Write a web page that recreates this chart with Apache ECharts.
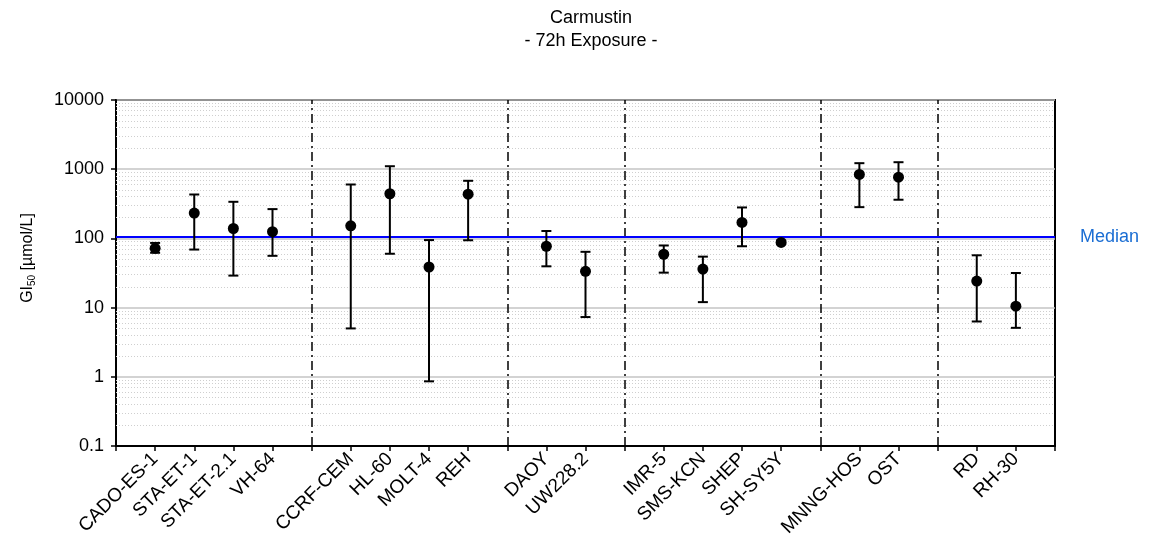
<!DOCTYPE html>
<html>
<head>
<meta charset="utf-8">
<script src="https://cdn.jsdelivr.net/npm/echarts@6/dist/echarts.min.js"></script>
<style>html,body{margin:0;padding:0;background:#fff}#c{width:1150px;height:543px}</style>
</head>
<body>
<div id="c"></div>
<script>
// ---- data ----
const groupSizes = [4, 4, 2, 4, 2, 2];
const cellLines = ['CADO-ES-1','STA-ET-1','STA-ET-2.1','VH-64',
  'CCRF-CEM','HL-60','MOLT-4','REH',
  'DAOY','UW228.2',
  'IMR-5','SMS-KCN','SHEP','SH-SY5Y',
  'MNNG-HOS','OST',
  'RD','RH-30'];
const gi50     = [72, 232, 139, 125, 152, 442, 38.6, 436, 77, 33.4, 59, 36, 170, 87.5, 839, 767, 24.2, 10.5];
const gi50High = [86, 431, 338, 265, 601, 1104, 94.6, 680, 128, 64, 79, 54.5, 280, 93, 1222, 1262, 57, 31.6];
const gi50Low  = [62, 69, 29, 56, 5.0, 60, 0.86, 94, 39.5, 7.3, 32, 12, 77, 83, 283, 362, 6.3, 5.1];
const medianValue = 106;
const yTickLabels = ['0.1','1','10','100','1000','10000'];

// ---- layout derived from groups ----
const positions = [];
const separators = [];
let pos = 0;
groupSizes.forEach((n, gi) => {
  for (let i = 0; i < n; i++) { pos += 1; positions.push(pos); }
  pos += 1;
  if (gi < groupSizes.length - 1) separators.push(pos);
});
const xMax = pos;
const labelAt = {};
positions.forEach((p, i) => labelAt[p] = cellLines[i]);

const decades = yTickLabels.map(Number);
const minorVals = [];
decades.slice(0, -1).forEach(d => { for (let m = 2; m <= 9; m++) minorVals.push(d * m); });

const pts = positions.map((p, i) => [p, gi50[i]]);
const errs = positions.map((p, i) => [p, gi50Low[i], gi50High[i]]);

const chart = echarts.init(document.getElementById('c'));
const FONT = 'Liberation Sans, Arial, sans-serif';
chart.setOption({
  animation: false,
  backgroundColor: '#fff',
  title: {
    text: 'Carmustin\n- 72h Exposure -',
    left: 586, top: 2, textAlign: 'center',
    textStyle: { fontFamily: FONT, fontWeight: 'normal', fontSize: 18, lineHeight: 23, color: '#000' }
  },
  graphic: [{
    type: 'text', x: 28, y: 258, rotation: Math.PI / 2,
    style: {
      text: '{a|GI}{s|50}{a| [µmol/L]}', align: 'center', verticalAlign: 'middle',
      rich: { a: { fontFamily: FONT, fontSize: 16, fill: '#000' }, s: { fontFamily: FONT, fontSize: 10, fill: '#000', padding: [9, 0, 0, 0] } }
    }
  }],
  grid: { left: 116, right: 95, top: 100, bottom: 97, show: true, borderColor: '#000', borderWidth: 2, containLabel: false },
  xAxis: {
    type: 'value', min: 0, max: xMax, interval: 1,
    splitLine: { show: false },
    axisLine: { lineStyle: { color: '#000', width: 2 } },
    axisTick: { show: true, length: 5, lineStyle: { color: '#000', width: 1.5 } },
    axisLabel: {
      rotate: 45, margin: 10, fontFamily: FONT, fontSize: 19, color: '#000',
      formatter: v => labelAt[v] || ''
    }
  },
  yAxis: {
    type: 'log', logBase: 10, min: 0.1, max: 10000,
    axisLine: { show: true, lineStyle: { color: '#000', width: 2 } },
    axisTick: { show: true, length: 5, lineStyle: { color: '#000', width: 1.5 } },
    axisLabel: { fontFamily: FONT, fontSize: 18, color: '#000', margin: 12,
      formatter: v => { const s = yTickLabels.find(t => Math.abs(Number(t) - v) / v < 1e-6); return s || ''; } },
    splitLine: { show: true, lineStyle: { color: '#c4c4c4', width: 1.5 } }
  },
  series: [
    {
      type: 'line', data: [], silent: true,
      markLine: {
        silent: true, symbol: 'none', animation: false, z: 1,
        label: { show: false },
        lineStyle: { color: '#cfcfcf', type: [1, 2], width: 1 },
        data: minorVals.map(v => ({ yAxis: v }))
      }
    },
    {
      type: 'line', data: [], silent: true,
      markLine: {
        silent: true, symbol: 'none', animation: false, z: 2,
        label: { show: false },
        lineStyle: { color: '#000', type: [9, 4, 2, 4], width: 1.5 },
        data: separators.map(v => ({ xAxis: v }))
      }
    },
    {
      type: 'line', data: [], silent: true,
      markLine: {
        silent: true, symbol: 'none', animation: false, z: 3,
        lineStyle: { color: '#0000ff', type: 'solid', width: 2 },
        label: { show: true, position: 'end', distance: 25, formatter: 'Median', color: '#1a6dd3', fontFamily: FONT, fontSize: 18 },
        data: [{ yAxis: medianValue }]
      }
    },
    {
      type: 'custom', z: 10,
      data: errs,
      renderItem: (params, api) => {
        const x = api.value(0);
        const lo = api.coord([x, api.value(1)]);
        const hi = api.coord([x, api.value(2)]);
        const w = 5;
        const st = { stroke: '#000', lineWidth: 2 };
        return { type: 'group', children: [
          { type: 'line', shape: { x1: lo[0], y1: lo[1], x2: hi[0], y2: hi[1] }, style: st },
          { type: 'line', shape: { x1: hi[0] - w, y1: hi[1], x2: hi[0] + w, y2: hi[1] }, style: st },
          { type: 'line', shape: { x1: lo[0] - w, y1: lo[1], x2: lo[0] + w, y2: lo[1] }, style: st }
        ] };
      }
    },
    {
      type: 'scatter', z: 11, data: pts, symbol: 'circle', symbolSize: 11,
      itemStyle: { color: '#000', opacity: 1 }
    }
  ]
});
</script>
</body>
</html>
